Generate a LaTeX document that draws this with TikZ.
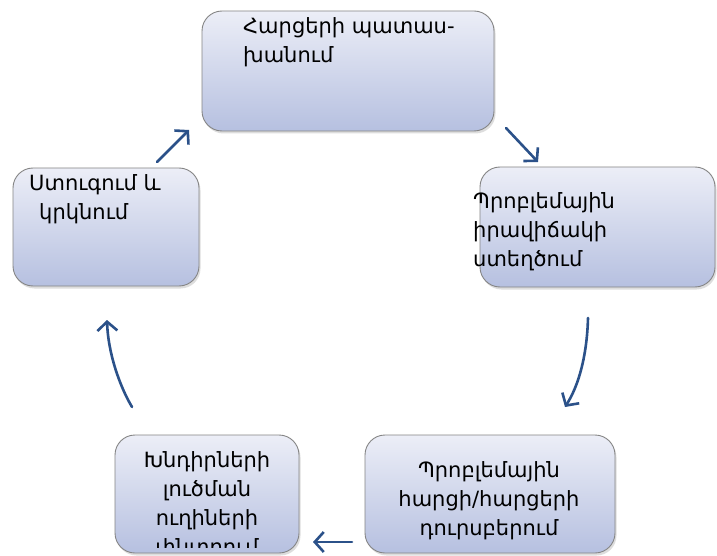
\documentclass[tikz,border=0pt]{standalone}
\usepackage{fontspec}
\setmainfont{DejaVu Sans}
\usetikzlibrary{arrows.meta,shadows}
\definecolor{arrowblue}{HTML}{2B5189}
\definecolor{boxtop}{HTML}{ECEEF7}
\definecolor{boxbot}{HTML}{B6C0E0}
\definecolor{boxline}{HTML}{858585}
\tikzset{
  stagebox/.style={rounded corners=20pt, draw=boxline, line width=0.9pt,
    top color=boxtop, bottom color=boxbot, minimum width=#1, inner sep=0pt,
    drop shadow={shadow xshift=1.5pt, shadow yshift=-2.5pt, opacity=0.22, fill=black!60}},
  stagetext/.style={inner sep=0pt, font=\fontsize{21}{29}\selectfont, text=black},
  cyclearrow/.style={draw=arrowblue, line width=2.6pt, line cap=round,
    -{Straight Barb[length=9pt,width=20pt,line width=2.6pt]}},
}
\begin{document}
\begin{tikzpicture}[x=1pt,y=-1pt]
\useasboundingbox[fill=white] (0,0) rectangle (717,556);
% boxes
\node[stagebox=292pt, minimum height=120pt] (top) at (348,71) {};
\node[stagebox=235pt, minimum height=120pt] (right) at (597.5,227) {};
\node[stagebox=186pt, minimum height=118pt] (left) at (106,227) {};
\node[stagebox=184pt, minimum height=118pt] (bl) at (207,494) {};
\node[stagebox=250pt, minimum height=118pt] (br) at (490,494) {};
% texts
\node[stagetext, anchor=north west, align=left] (toptext) at (243,17) {Հարցերի պատաս-\\խանում};
\node[stagetext, anchor=north west, align=left] (righttext) at (473,192) {Պրոբլեմային\\իրավիճակի\\ստեղծում};
\node[stagetext, anchor=north west, align=left] (lefttext) at (29,174) {Ստուգում և\\\hspace*{10pt}կրկնում};
\begin{scope}
  \clip (100,440) rectangle (310,547);
  \node[stagetext, anchor=north, align=center] (bltext) at (207,451) {Խնդիրների\\լուծման\\ուղիների\\փնտրում};
\end{scope}
\begin{scope}
  \clip (360,440) rectangle (620,539);
  \node[stagetext, anchor=north, align=center] (brtext) at (489,461) {Պրոբլեմային\\հարցի/հարցերի\\դուրսբերում};
\end{scope}
% arrow end points
\coordinate (a1s) at (506,128); \coordinate (a1e) at (538,162);
\coordinate (a2s) at (588,318); \coordinate (a2e) at (565,407);
\coordinate (a3s) at (352,542); \coordinate (a3e) at (313,542);
\coordinate (a4s) at (132,407); \coordinate (a4e) at (107,320);
\coordinate (a5s) at (157,162); \coordinate (a5e) at (189,130);
\draw[cyclearrow] (a1s) -- (a1e);
\draw[cyclearrow] (a2s) .. controls (587,355) and (579,385) .. (a2e);
\draw[cyclearrow] (a3s) -- (a3e);
\draw[cyclearrow] (a4s) .. controls (119,385) and (108,352) .. (a4e);
\draw[cyclearrow] (a5s) -- (a5e);
\end{tikzpicture}
\end{document}
